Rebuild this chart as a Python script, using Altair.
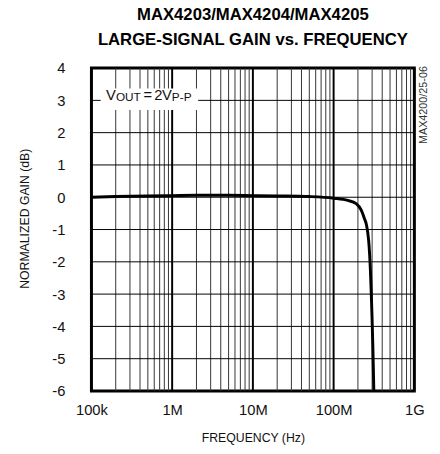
import altair as alt
import pandas as pd

# ---- data ----
freq_hz = [1e5, 2e5, 5e5, 1e6, 2e6, 5e6, 1e7, 2e7, 5e7, 1e8, 1.5e8, 1.9e8,
           2.2e8, 2.4e8, 2.55e8, 2.65e8, 2.75e8, 2.85e8, 2.93e8, 3.0e8,
           3.06e8, 3.1e8, 3.15e8]
gain_db = [0.0, 0.02, 0.04, 0.05, 0.06, 0.06, 0.05, 0.04, 0.02, -0.03, -0.1,
           -0.2, -0.4, -0.65, -0.85, -1.1, -1.5, -2.2, -3.0, -3.8, -4.6, -5.2,
           -6.0]

major_freqs = [1e5, 1e6, 1e7, 1e8, 1e9]
major_labels = ["100k", "1M", "10M", "100M", "1G"]
minor_freqs = [m * d for d in [1e5, 1e6, 1e7, 1e8] for m in range(2, 10)]
y_ticks = list(range(-6, 5))
y_grid = list(range(-5, 4))

title_lines = ["MAX4203/MAX4204/MAX4205", "LARGE-SIGNAL GAIN vs. FREQUENCY"]
x_title = "FREQUENCY (Hz)"
y_title = "NORMALIZED GAIN (dB)"
side_note = "MAX4200/25-06"

# annotation box (data space) and anchor
box_f = [1.3e5, 2.1e6]
box_g = [2.70, 3.37]
note_f = [1.52e5]
note_g = [3.0]

FONT = "Liberation Sans, Arial, sans-serif"
W, H = 329, 329

curve = pd.DataFrame({"f": freq_hz, "g": gain_db})
minor_df = pd.DataFrame({"f": minor_freqs})
major_df = pd.DataFrame({"f": major_freqs})
hgrid_df = pd.DataFrame({"g": y_grid})
box_df = pd.DataFrame({"f1": [box_f[0]], "f2": [box_f[1]], "g1": [box_g[0]], "g2": [box_g[1]]})
note_df = pd.DataFrame({"f": note_f, "g": note_g})

xscale = alt.Scale(type="log", domain=[1e5, 1e9], nice=False)
yscale = alt.Scale(domain=[-6, 4], nice=False, zero=False)

label_js = "[" + ",".join("'%s'" % s for s in major_labels) + "]"

xaxis = alt.Axis(values=major_freqs, labelExpr=label_js + "[round(log(datum.value)/log(10))-5]",
                 title=x_title, grid=False, ticks=False, domain=False,
                 labelFont=FONT, labelFontSize=15, labelColor="#111", labelPadding=12,
                 labelFlush=False, labelOverlap=False,
                 titleFont=FONT, titleFontSize=12.5, titleFontWeight="normal", titleColor="#111",
                 titleY=47, titleBaseline="middle")
yaxis = alt.Axis(values=y_ticks, labelExpr="'' + datum.value", title=y_title,
                 grid=False, ticks=False, domain=False,
                 labelFont=FONT, labelFontSize=15, labelColor="#111", labelPadding=27,
                 labelBaseline="middle",
                 titleFont=FONT, titleFontSize=12.5, titleFontWeight="normal", titleColor="#111",
                 titleX=-68, titleY=153, titleAlign="center", titleBaseline="middle", titleAngle=270)

X = lambda field: alt.X(field, scale=xscale, axis=xaxis)
Y = lambda field: alt.Y(field, scale=yscale, axis=yaxis)

minor = alt.Chart(minor_df).mark_rule(color="#333", strokeWidth=1).encode(x=X("f:Q"))
major = alt.Chart(major_df).mark_rule(color="#000", strokeWidth=2).encode(x=X("f:Q"))
hgrid = alt.Chart(hgrid_df).mark_rule(color="#000", strokeWidth=1).encode(y=Y("g:Q"))
box = alt.Chart(box_df).mark_rect(color="white").encode(
    x=X("f1:Q"), x2="f2:Q", y=Y("g1:Q"), y2="g2:Q")
line = alt.Chart(curve).mark_line(color="#000", strokeWidth=3, clip=True, interpolate="monotone").encode(
    x=X("f:Q"), y=Y("g:Q"))

def seg(text, dx, size, dy=0):
    return alt.Chart(note_df).mark_text(text=text, dx=dx, dy=dy, align="left", baseline="alphabetic",
                                         font=FONT, fontSize=size, color="#111").encode(
        x=X("f:Q"), y=Y("g:Q"))

notes = [seg("V", 0, 15), seg("OUT", 10, 12, 1), seg("=", 38, 15), seg("2", 49, 15),
         seg("V", 57, 15), seg("P-P", 67, 12, 1)]

side = alt.Chart(note_df).mark_text(text=side_note, angle=270, align="right", baseline="middle",
                                    font=FONT, fontSize=11, color="#333").encode(
    x=alt.value(W + 10), y=alt.value(-2))

chart = alt.layer(minor, major, hgrid, box, line, *notes, side).properties(
    width=W, height=H,
    title=alt.TitleParams(title_lines, font=FONT, fontSize=17, fontWeight="bold",
                          lineHeight=26, anchor="middle", frame="group", offset=12, color="#000"),
    autosize=alt.AutoSizeParams(type="none"),
    padding={"left": 85, "top": 57, "right": 18, "bottom": 60},
).configure_view(stroke="#000", strokeWidth=3)

chart.save("out.html", embed_options={"renderer": "svg", "actions": False})
